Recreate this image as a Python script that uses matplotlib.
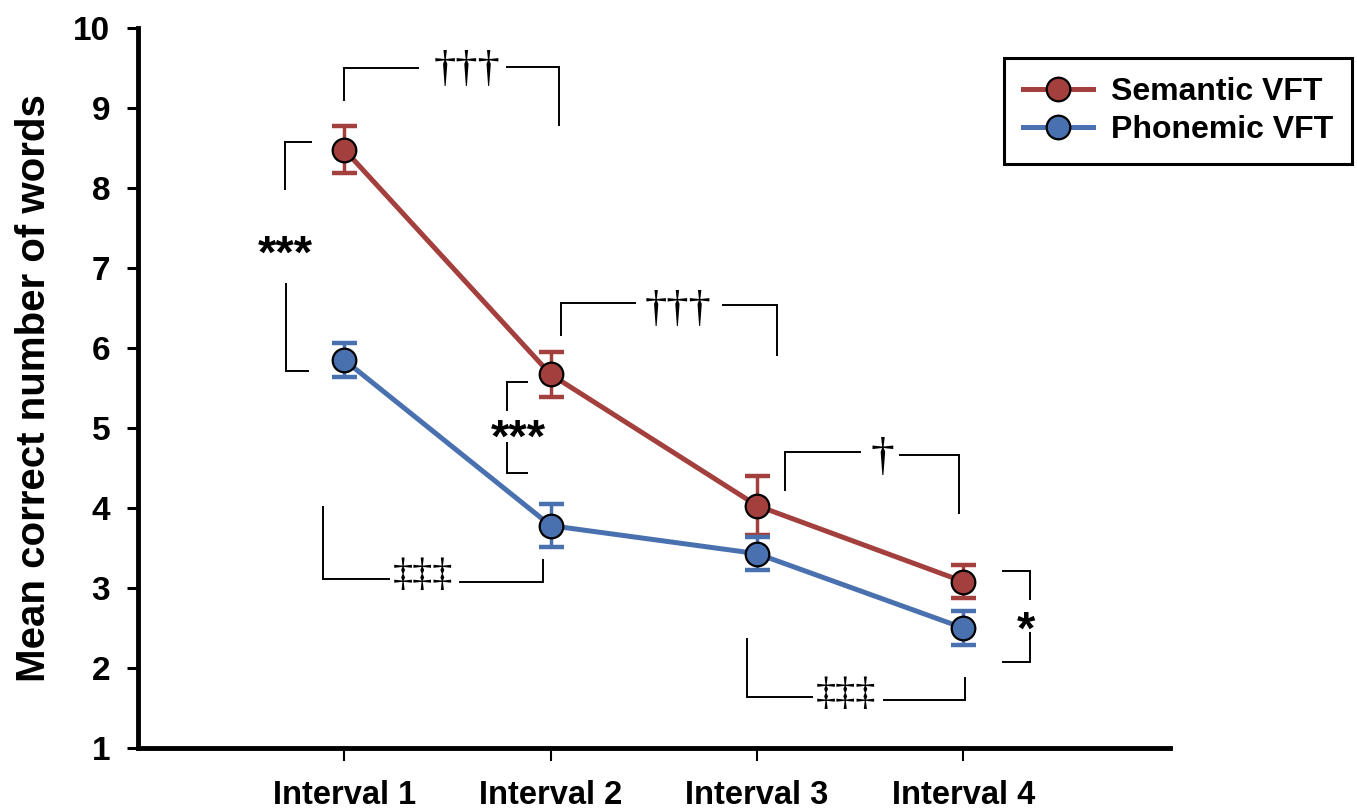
import matplotlib
matplotlib.use('Agg')
import matplotlib.pyplot as plt

plt.rcParams['font.family'] = ['Liberation Sans', 'DejaVu Sans']

intervals = ['Interval 1', 'Interval 2', 'Interval 3', 'Interval 4']
x = [1, 2, 3, 4]
semantic = [8.48, 5.67, 4.03, 3.08]
semantic_err = [0.29, 0.28, 0.37, 0.21]
phonemic = [5.85, 3.78, 3.43, 2.50]
phonemic_err = [0.21, 0.27, 0.21, 0.21]

red = '#A3403D'
blue = '#4A71AF'

# significance brackets (data coords), each one is a polyline
brackets = [
    [(1.0, 9.1), (1.0, 9.5), (1.357, 9.5)],
    [(1.789, 9.51), (2.039, 9.51), (2.039, 8.79)],
    [(2.05, 6.16), (2.05, 6.56), (2.408, 6.56)],
    [(2.837, 6.54), (3.097, 6.54), (3.097, 5.91)],
    [(3.136, 4.225), (3.136, 4.70), (3.50, 4.70)],
    [(3.694, 4.66), (3.98, 4.66), (3.98, 3.94)],
    [(0.84, 8.575), (0.711, 8.575), (0.711, 7.99)],
    [(0.718, 6.80), (0.718, 5.71), (0.825, 5.71)],
    [(1.883, 5.575), (1.786, 5.575), (1.786, 5.225)],
    [(1.786, 4.81), (1.786, 4.44), (1.883, 4.44)],
    [(0.898, 4.01), (0.898, 3.11), (1.216, 3.11)],
    [(1.561, 3.075), (1.964, 3.075), (1.964, 3.35)],
    [(2.95, 2.36), (2.95, 1.64), (3.267, 1.64)],
    [(3.617, 1.60), (4.01, 1.60), (4.01, 1.875)],
    [(4.194, 3.21), (4.325, 3.21), (4.325, 2.86)],
    [(4.325, 2.44), (4.325, 2.075), (4.19, 2.075)],
]

# (text, x, y, font size, font)
marks = [
    ('\u2020\u2020\u2020', 1.592, 9.47, 32, 'serif'),
    ('\u2020\u2020\u2020', 2.617, 6.47, 32, 'serif'),
    ('\u2020', 3.607, 4.62, 34, 'serif'),
    ('***', 0.714, 7.15, 34, 'sans'),
    ('***', 1.845, 4.85, 34, 'sans'),
    ('\u2021\u2021\u2021', 1.383, 3.16, 29, 'serif'),
    ('\u2021\u2021\u2021', 3.432, 1.675, 29, 'serif'),
    ('*', 4.306, 2.45, 34, 'sans'),
]

fig = plt.figure(figsize=(13.57, 8.10), dpi=100)
ax = fig.add_axes([0.1017, 0.0765, 0.7603, 0.8889])

for vals, errs, col, lab in [(semantic, semantic_err, red, 'Semantic VFT'),
                             (phonemic, phonemic_err, blue, 'Phonemic VFT')]:
    ax.errorbar(x, vals, yerr=errs, fmt='none', ecolor=col, elinewidth=2.5,
                capsize=9, capthick=3.2, zorder=2)
    ax.plot(x, vals, color=col, lw=3.6, marker='o', ms=17, mfc=col,
            mec='black', mew=1.6, zorder=3, label=lab)

for seg in brackets:
    xs = [p[0] for p in seg]
    ys = [p[1] for p in seg]
    ax.plot(xs, ys, color='black', lw=1.4, zorder=1, solid_joinstyle='miter')

for txt, tx, ty, fs, kind in marks:
    if kind == 'serif':
        ax.text(tx, ty, txt, ha='center', va='center', fontsize=fs,
                family=['Liberation Serif', 'DejaVu Serif'])
    else:
        ax.text(tx, ty, txt, ha='center', va='center', fontsize=fs,
                fontweight='bold')

ax.set_xlim(0, 5)
ax.set_ylim(1, 10)
ax.set_xticks(x)
ax.set_xticklabels(intervals, fontsize=23.5, fontweight='bold')
ax.set_yticks(range(1, 11))
ax.set_yticklabels([str(v) for v in range(1, 11)], fontsize=24, fontweight='bold')
ax.tick_params(axis='y', direction='out', length=8, width=2.2, pad=12)
ax.tick_params(axis='x', direction='out', length=9, width=1.5, pad=14)

for s in ['top', 'right']:
    ax.spines[s].set_visible(False)
for s in ['left', 'bottom']:
    ax.spines[s].set_linewidth(3.5)

ax.set_ylabel('Mean correct number of words', fontsize=29, fontweight='bold')
ax.yaxis.set_label_coords(-0.082, 0.5)

leg = ax.legend(loc='upper right', bbox_to_anchor=(0.9963, 0.9284),
                bbox_transform=fig.transFigure, borderaxespad=0,
                fancybox=False, edgecolor='black', framealpha=1,
                prop={'weight': 'bold', 'size': 23}, handlelength=2.2,
                handletextpad=0.55, labelspacing=0.25, borderpad=0.6)
leg.get_frame().set_linewidth(2.2)

fig.savefig('out.png', dpi=100)
